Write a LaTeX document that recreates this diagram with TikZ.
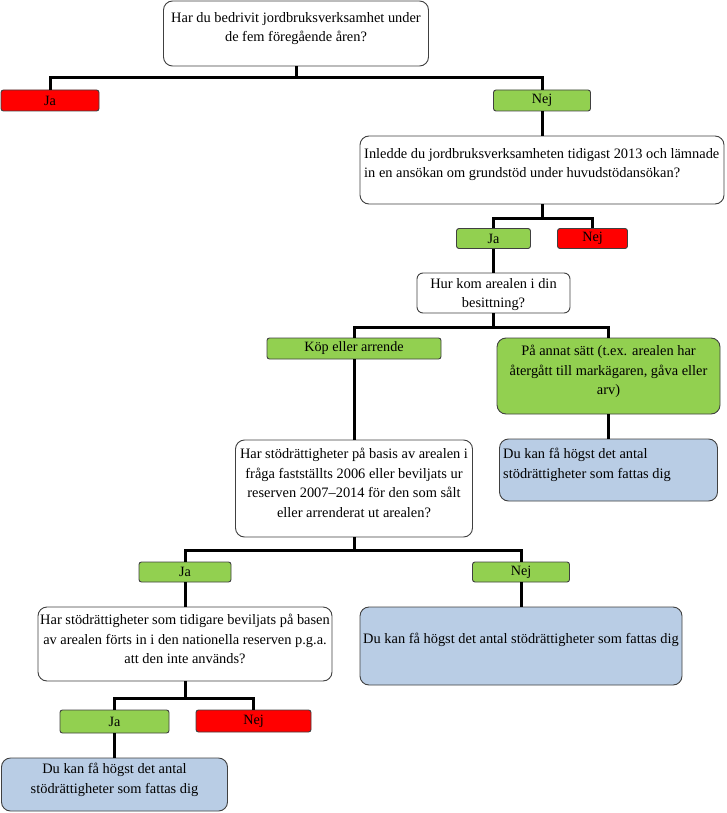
\documentclass[tikz,border=0pt]{standalone}
\usepackage{fontspec}
\setmainfont{Liberation Serif}
\definecolor{ansred}{HTML}{FF0000}
\definecolor{ansgreen}{HTML}{92D050}
\definecolor{infoblue}{HTML}{B9CDE5}
\definecolor{edgegray}{HTML}{404040}
\begin{document}
\begin{tikzpicture}[x=1pt,y=-1pt,
  qbox/.style={draw=edgegray, line width=0.9pt, rounded corners=9pt, fill=white, inner sep=0pt},
  infobox/.style={qbox, fill=infoblue},
  ansbox/.style={draw=edgegray, line width=0.9pt, rounded corners=2.5pt, inner sep=0pt,
     font=\fontsize{14.2}{16}\selectfont},
  yes/.style={ansbox, fill=ansgreen},
  no/.style={ansbox, fill=ansred},
  txt/.style={inner sep=0pt, font=\fontsize{14.4}{19.5}\selectfont},
  conn/.style={line width=3pt, draw=black, line join=miter}]
\useasboundingbox (0,0) rectangle (726,813);

% level 1
\node[qbox, minimum width=265, minimum height=65] (q1) at (296,33.5) {};
\node[txt, align=center, anchor=north] (q1t) at (296,12) {Har du bedrivit jordbruksverksamhet under\\de fem föregående åren?};
\node[no, minimum width=98, minimum height=21] (ja1) at (50,100.5) {Ja};
\node[yes, minimum width=97, minimum height=21] (nej1) at (542,100.5) {Nej};

% level 2
\node[qbox, minimum width=364, minimum height=68] (q2) at (542,170) {};
\node[txt, align=left, anchor=north west] (q2t) at (364,148) {Inledde du jordbruksverksamheten tidigast 2013 och lämnade\\in en ansökan om grundstöd under huvudstödansökan?};
\node[yes, minimum width=74, minimum height=20] (ja2) at (493.5,238.5) {Ja};
\node[no, minimum width=70, minimum height=20] (nej2) at (592.5,238.5) {Nej};

% level 3
\node[qbox, rounded corners=6pt, minimum width=153, minimum height=40] (q3) at (493.5,293) {};
\node[txt, align=center, anchor=north] (q3t) at (493.5,278) {Hur kom arealen i din\\besittning?};
\node[yes, minimum width=174, minimum height=21] (kop) at (354,348.5) {Köp eller arrende};
\node[yes, rounded corners=9pt, minimum width=223, minimum height=76] (opt) at (608.5,376) {};
\node[txt, align=center, anchor=north] (optt) at (608.5,345) {På annat sätt (t.ex. arealen har\\återgått till markägaren, gåva eller\\arv)};

% level 4
\node[qbox, minimum width=237, minimum height=97] (q4) at (354,488.5) {};
\node[txt, align=center, anchor=north] (q4t) at (354,448) {Har stödrättigheter på basis av arealen i\\fråga fastställts 2006 eller beviljats ur\\reserven 2007–2014 för den som sålt\\eller arrenderat ut arealen?};
\node[infobox, minimum width=218, minimum height=62] (b1) at (608.5,470) {};
\node[txt, align=left, anchor=north west] (b1t) at (503,448) {Du kan få högst det antal\\stödrättigheter som fattas dig};
\node[yes, minimum width=92, minimum height=20] (ja3) at (185,572) {Ja};
\node[yes, minimum width=97, minimum height=20] (nej3) at (521,572) {Nej};

% level 5
\node[qbox, minimum width=294, minimum height=74] (q5) at (185,644) {};
\node[txt, align=center, anchor=north] (q5t) at (185,614) {Har stödrättigheter som tidigare beviljats på basen\\av arealen förts in i den nationella reserven p.g.a.\\att den inte används?};
\node[infobox, minimum width=322, minimum height=78] (b2) at (521,646) {};
\node[txt, align=center, anchor=north] (b2t) at (521,633) {Du kan få högst det antal stödrättigheter som fattas dig};
\node[yes, minimum width=109, minimum height=23] (ja4) at (114.5,721.5) {Ja};
\node[no, minimum width=115, minimum height=22] (nej4) at (253.5,721) {Nej};
\node[infobox, minimum width=226, minimum height=53] (b3) at (114.5,784.5) {};
\node[txt, align=center, anchor=north] (b3t) at (114.5,763) {Du kan få högst det antal\\stödrättigheter som fattas dig};

% junctions
\coordinate (j1) at (296,78);
\coordinate (j2) at (542,218);
\coordinate (j3) at (493.5,327);
\coordinate (j4) at (354,550);
\coordinate (j5) at (185,698);

% connectors
\draw[conn] (q1.south) -- (j1);
\draw[conn] (ja1.north) |- (j1) -| (nej1.north);
\draw[conn] (nej1.south) -- (q2.north);
\draw[conn] (q2.south) -- (j2);
\draw[conn] (ja2.north) |- (j2) -| (nej2.north);
\draw[conn] (ja2.south) -- (q3.north);
\draw[conn] (q3.south) -- (j3);
\draw[conn] (kop.north) |- (j3) -| (opt.north);
\draw[conn] (kop.south) -- (q4.north);
\draw[conn] (opt.south) -- (b1.north);
\draw[conn] (q4.south) -- (j4);
\draw[conn] (ja3.north) |- (j4) -| (nej3.north);
\draw[conn] (ja3.south) -- (q5.north);
\draw[conn] (nej3.south) -- (b2.north);
\draw[conn] (q5.south) -- (j5);
\draw[conn] (ja4.north) |- (j5) -| (nej4.north);
\draw[conn] (ja4.south) -- (b3.north);
\end{tikzpicture}
\end{document}
